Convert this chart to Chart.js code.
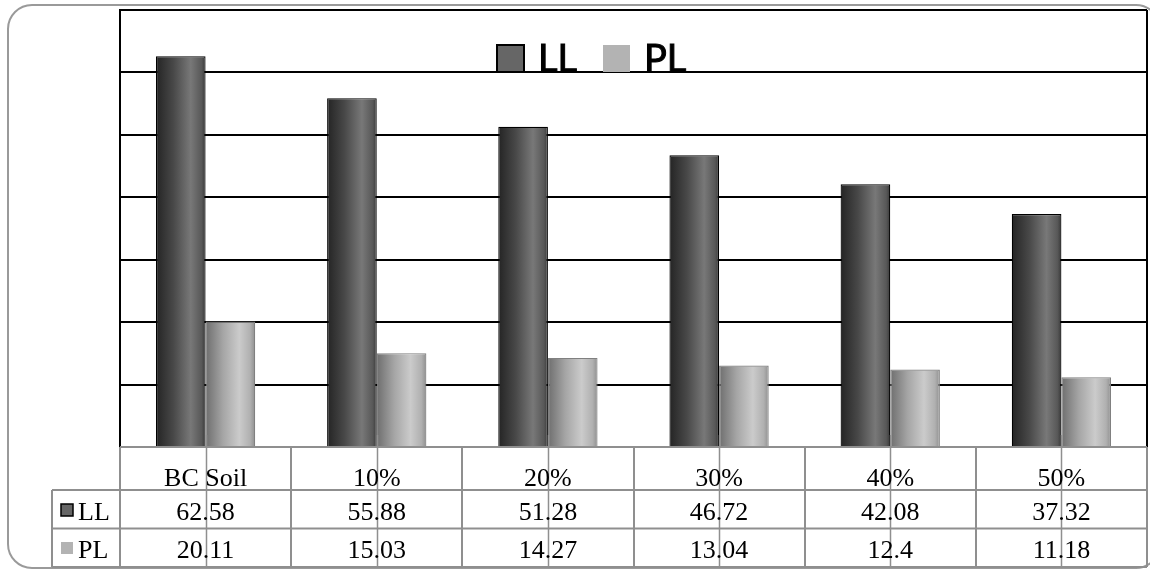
<!DOCTYPE html>
<html>
<head>
<meta charset="utf-8">
<script src="https://cdn.jsdelivr.net/npm/chart.js@4.4.1/dist/chart.umd.min.js"></script>
<style>
  html, body { margin: 0; padding: 0; background: #ffffff; }
  #wrap { width: 1150px; height: 570px; }
</style>
</head>
<body>
<div id="wrap"><canvas id="c" width="1150" height="570"></canvas></div>
<script>
// Categories and measured values
const categories = ['BC Soil', '10%', '20%', '30%', '40%', '50%'];
const llValues = [62.58, 55.88, 51.28, 46.72, 42.08, 37.32];
const plValues = [20.11, 15.03, 14.27, 13.04, 12.4, 11.18];
const seriesNames = ['LL', 'PL'];
const yTicks = [0, 10, 20, 30, 40, 50, 60, 70];

const CAT_PCT = 0.58;

// Horizontal "cylinder" shading for each bar
const shadeLL = [[0, '#242424'], [0.35, '#484848'], [0.7, '#787878'], [0.92, '#585858'], [1, '#383838']];
const shadePL = [[0, '#6e6e6e'], [0.35, '#a5a5a5'], [0.68, '#cbcbcb'], [0.9, '#b0b0b0'], [1, '#8e8e8e']];

function barShade(stops, flat) {
  return function (ctx) {
    const chart = ctx.chart;
    const xs = chart.scales && chart.scales.x;
    if (!xs || ctx.dataIndex === undefined || !chart.chartArea) return flat;
    const n = chart.data.labels.length;
    const cat = (xs.right - xs.left) / n;
    const barW = cat * CAT_PCT / 2;
    const center = xs.getPixelForValue(ctx.dataIndex);
    const left = center - cat * CAT_PCT / 2 + ctx.datasetIndex * barW;
    const g = chart.ctx.createLinearGradient(left, 0, left + barW, 0);
    stops.forEach(s => g.addColorStop(s[0], s[1]));
    return g;
  };
}

const swatch = ['#666666', '#b3b3b3'];

// Frame, data table and legend drawn around the plot
const decorations = {
  id: 'decorations',
  beforeDraw(chart) {
    const c = chart.ctx;
    c.save();
    c.fillStyle = '#ffffff';
    c.fillRect(0, 0, chart.width, chart.height);
    // rounded outer frame
    const x0 = 8, y0 = 5, x1 = 1160, y1 = 568, r = 24;
    c.beginPath();
    c.moveTo(x0 + r, y0);
    c.lineTo(x1 - r, y0);
    c.arcTo(x1, y0, x1, y0 + r, r);
    c.lineTo(x1, y1 - r);
    c.arcTo(x1, y1, x1 - r, y1, r);
    c.lineTo(x0 + r, y1);
    c.arcTo(x0, y1, x0, y1 - r, r);
    c.lineTo(x0, y0 + r);
    c.arcTo(x0, y0, x0 + r, y0, r);
    c.closePath();
    c.strokeStyle = '#9a9a9a';
    c.lineWidth = 2;
    c.stroke();
    c.restore();
  },
  afterDraw(chart) {
    const c = chart.ctx;
    const area = chart.chartArea;
    const xs = chart.scales.x;
    const n = chart.data.labels.length;
    const cat = (xs.right - xs.left) / n;
    const rowTop = [area.bottom, 490, 528.5];
    const tableBottom = 567;
    const keyLeft = 52;

    c.save();
    // right edge of plot
    c.strokeStyle = '#000000';
    c.lineWidth = 2;
    c.beginPath();
    c.moveTo(area.right, area.top);
    c.lineTo(area.right, area.bottom);
    c.stroke();

    // table grid
    c.strokeStyle = '#8f8f8f';
    c.lineWidth = 2;
    c.beginPath();
    c.moveTo(xs.left, rowTop[0]); c.lineTo(area.right, rowTop[0]);
    c.moveTo(keyLeft, rowTop[1]); c.lineTo(area.right, rowTop[1]);
    c.moveTo(keyLeft, rowTop[2]); c.lineTo(area.right, rowTop[2]);
    c.moveTo(keyLeft, tableBottom); c.lineTo(area.right, tableBottom);
    for (let i = 0; i <= n; i++) {
      const bx = Math.round(xs.left + i * cat);
      c.moveTo(bx, rowTop[0]);
      c.lineTo(bx, tableBottom);
    }
    c.moveTo(keyLeft, rowTop[1]); c.lineTo(keyLeft, tableBottom);
    c.stroke();

    // category tick marks continuing through the table
    c.lineWidth = 1.5;
    c.strokeStyle = '#8f8f8f';
    c.beginPath();
    for (let i = 0; i < n; i++) {
      const cx = Math.round(xs.getPixelForValue(i)) + 0.5;
      c.moveTo(cx, area.bottom - 12);
      c.lineTo(cx, tableBottom);
    }
    c.stroke();

    // table text
    c.fillStyle = '#000000';
    c.font = '26px "Liberation Serif", "Times New Roman", serif';
    c.textAlign = 'center';
    c.textBaseline = 'alphabetic';
    for (let i = 0; i < n; i++) {
      const cx = xs.getPixelForValue(i);
      c.fillText(chart.data.labels[i], cx, 486);
      chart.data.datasets.forEach((ds, d) => {
        c.fillText(String(ds.data[i]), cx, d === 0 ? 520 : 558);
      });
    }
    // row keys
    c.textAlign = 'left';
    chart.data.datasets.forEach((ds, d) => {
      const base = d === 0 ? 520 : 558;
      c.fillStyle = swatch[d];
      c.fillRect(61, base - 16, 12, 12);
      if (d === 0) {
        c.strokeStyle = '#000000';
        c.lineWidth = 1.5;
        c.strokeRect(61, base - 16, 12, 12);
      }
      c.fillStyle = '#000000';
      c.fillText(ds.label, 78, base);
    });

    // legend over the plot
    c.font = '38px Lato, "Open Sans", sans-serif';
    const legendX = [497, 603];
    chart.data.datasets.forEach((ds, d) => {
      const lx = legendX[d];
      c.fillStyle = swatch[d];
      c.fillRect(lx, 45, 27, 27);
      if (d === 0) {
        c.strokeStyle = '#000000';
        c.lineWidth = 2;
        c.strokeRect(lx, 45, 27, 27);
      }
      c.fillStyle = '#000000';
      c.strokeStyle = '#000000';
      c.lineWidth = 1;
      c.fillText(ds.label, lx + 41, 72);
      c.strokeText(ds.label, lx + 41, 72);
    });
    c.restore();
  }
};

new Chart(document.getElementById('c'), {
  type: 'bar',
  data: {
    labels: categories,
    datasets: [
      {
        label: seriesNames[0],
        data: llValues,
        backgroundColor: barShade(shadeLL, '#555555'),
        borderColor: '#000000',
        borderWidth: 1.2,
        categoryPercentage: CAT_PCT,
        barPercentage: 1
      },
      {
        label: seriesNames[1],
        data: plValues,
        backgroundColor: barShade(shadePL, '#aaaaaa'),
        borderColor: '#808080',
        borderWidth: 1.2,
        categoryPercentage: CAT_PCT,
        barPercentage: 1
      }
    ]
  },
  options: {
    responsive: false,
    animation: false,
    devicePixelRatio: 1,
    layout: { padding: { left: 120, right: 3, top: 10, bottom: 123 } },
    plugins: {
      legend: { display: false },
      tooltip: { enabled: false }
    },
    scales: {
      x: {
        grid: { display: false, drawTicks: false },
        ticks: { display: false },
        border: { display: true, color: '#8f8f8f', width: 2 }
      },
      y: {
        min: yTicks[0],
        max: yTicks[yTicks.length - 1],
        afterBuildTicks(scale) { scale.ticks = yTicks.map(v => ({ value: v })); },
        grid: {
          drawTicks: false,
          lineWidth: 2,
          color: ctx => (ctx.tick && ctx.tick.value === 0 ? 'rgba(0,0,0,0)' : '#000000')
        },
        ticks: { display: false },
        border: { display: true, color: '#000000', width: 2 }
      }
    }
  },
  plugins: [decorations]
});
</script>
</body>
</html>
